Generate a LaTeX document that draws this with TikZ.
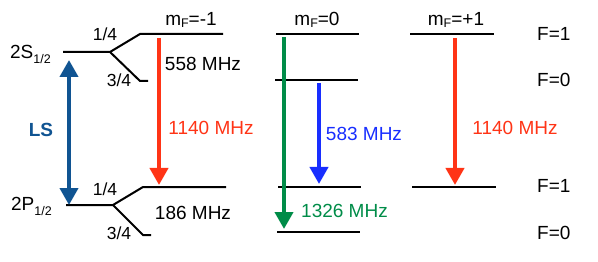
\documentclass[tikz,border=0pt]{standalone}
\usepackage{fontspec}
\setmainfont{Liberation Sans}
\usetikzlibrary{arrows.meta}

\definecolor{lsblue}{RGB}{16,84,146}
\definecolor{trred}{RGB}{255,52,22}
\definecolor{trblue}{RGB}{24,46,255}
\definecolor{trgreen}{RGB}{0,140,72}

\newcommand{\sub}[1]{\raisebox{-0.45ex}{\fontsize{12.5}{12}\selectfont #1}}
\newcommand{\mF}{m\raisebox{-0.1ex}{\fontsize{12.5}{12}\selectfont F}}

\begin{document}
\begin{tikzpicture}[x=1pt, y=-1pt,
  level/.style={line width=2pt, line join=miter},
  lbl/.style={font=\fontsize{19}{20}\selectfont, inner sep=0pt, anchor=base},
  frac/.style={font=\fontsize{17.5}{20}\selectfont, inner sep=0pt, anchor=base},
  trans/.style={-{Triangle[width=18pt,length=17pt]}, line width=4pt},
  both/.style={{Triangle[width=18pt,length=17pt]}-{Triangle[width=18pt,length=17pt]}, line width=4pt}
]
\useasboundingbox (0,0) rectangle (598,262);

% 2S_1/2 hyperfine levels
\draw[level] (63,52) -- (110,52) -- (140,34) -- (223,34);
\draw[level] (110,52) -- (140,81) -- (148,81);
% 2P_1/2 hyperfine levels
\draw[level] (66,205) -- (113,205) -- (143,187) -- (226,187);
\draw[level] (113,205) -- (143,235) -- (151,235);
% m_F = 0 column
\draw[level] (276,34) -- (359,34);
\draw[level] (275,80) -- (358,80);
\draw[level] (278,187) -- (361,187);
\draw[level] (277,232) -- (360,232);
% m_F = +1 column
\draw[level] (410,34) -- (494,34);
\draw[level] (412,187) -- (496,187);

\node[lbl, anchor=base east] (s12) at (51,59) {2S\sub{1/2}};
\node[lbl, anchor=base east] (p12) at (52,211) {2P\sub{1/2}};
\node[frac] (sup) at (105,41) {1/4};
\node[frac] (sdown) at (119,87) {3/4};
\node[frac] (pup) at (105,196) {1/4};
\node[frac] (pdown) at (119,239) {3/4};

\node[lbl] (mfm) at (191,26) {\mF=-1};
\node[lbl] (mfz) at (317,26) {\mF=0};
\node[lbl] (mfp) at (456,26) {\mF=+1};

\node[lbl, anchor=base west] (f1s) at (537,41) {F=1};
\node[lbl, anchor=base west] (f0s) at (537,87) {F=0};
\node[lbl, anchor=base west] (f1p) at (537,193) {F=1};
\node[lbl, anchor=base west] (f0p) at (537,239) {F=0};

\node[lbl] (hfs) at (203,71) {558 MHz};
\node[lbl] (hfp) at (193,219) {186 MHz};

% transitions
\coordinate (lstop) at (69,60);
\coordinate (lsbot) at (69,205);
\coordinate (ra) at (159,38);
\coordinate (rb) at (159,185);
\coordinate (ga) at (284,37);
\coordinate (gb) at (284,229);
\coordinate (ba) at (319,83);
\coordinate (bb) at (319,184);
\coordinate (qa) at (455,38);
\coordinate (qb) at (455,185);

\draw[both, lsblue] (lstop) -- (lsbot);
\draw[trans, trred] (ra) -- (rb);
\draw[trans, trgreen] (ga) -- (gb);
\draw[trans, trblue] (ba) -- (bb);
\draw[trans, trred] (qa) -- (qb);

\node[lbl, lsblue, font=\fontsize{19}{20}\selectfont\bfseries] (ls) at (41,136) {LS};
\node[lbl, trred] (fa) at (211,135) {1140 MHz};
\node[lbl, trblue] (fb) at (364,140) {583 MHz};
\node[lbl, trred] (fc) at (515,135) {1140 MHz};
\node[lbl, trgreen, anchor=base west] (fd) at (301,218) {1326 MHz};
\end{tikzpicture}
\end{document}
